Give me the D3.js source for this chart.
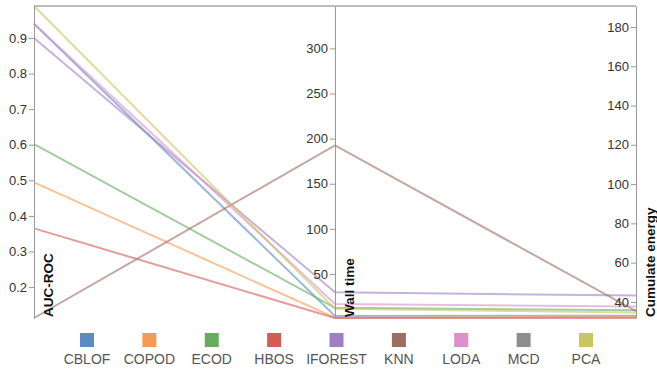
<!DOCTYPE html>
<html>
<head>
<meta charset="utf-8">
<script src="https://cdn.jsdelivr.net/npm/d3@7"></script>
<style>
    body { margin: 0; background: #fff; }
    text { font-family: "Liberation Sans", Arial, Helvetica, sans-serif; }
</style>
</head>
<body>
<div id="chart"></div>
<script>
// Methods and their measures
const methods = ['CBLOF', 'COPOD', 'ECOD', 'HBOS', 'IFOREST', 'KNN', 'LODA', 'MCD', 'PCA'];
const aucRoc = [0.94, 0.494, 0.602, 0.365, 0.90, 0.113, 0.94, 0.99, 0.99];
const wallTime = [3.5, 1.5, 12.5, 1.2, 29.7, 192.5, 16.8, 347, 11.5];
const energy = [33.0, 32.4, 35.8, 31.8, 43.2, 35.3, 37.6, 190.7, 34.6];
const dimensions = ['AUC-ROC', 'Wall time', 'Cumulate energy'];
const colors = ['#5b8bc0', '#f39b56', '#67ab5d', '#d35c57', '#a07ec4', '#9b6e62', '#dd8fc7', '#8e8e8e', '#c6c761'];

const WIDTH = 657, HEIGHT = 372;
const PLOT = { left: 34, right: 636, top: 6, bottom: 318 };

const rows = methods.map((m, i) => ({
    name: m,
    'AUC-ROC': aucRoc[i],
    'Wall time': wallTime[i],
    'Cumulate energy': energy[i]
}));

const svg = d3.select('#chart').append('svg')
    .attr('width', WIDTH)
    .attr('height', HEIGHT);

// x position of each axis
const x = d3.scalePoint()
    .domain(dimensions)
    .range([PLOT.left, PLOT.right]);

// one y scale per dimension, domain = data extent
const y = {};
dimensions.forEach(d => {
    y[d] = d3.scaleLinear()
        .domain(d3.extent(rows, r => r[d]))
        .range([PLOT.bottom, PLOT.top]);
});

const color = d3.scaleOrdinal().domain(methods).range(colors);

const line = d3.line()
    .x(d => x(d.dim))
    .y(d => y[d.dim](d.value));

// Lines
svg.append('g')
    .selectAll('path')
    .data(rows)
    .join('path')
    .attr('d', r => line(dimensions.map(dim => ({ dim, value: r[dim] }))))
    .attr('fill', 'none')
    .attr('stroke', r => color(r.name))
    .attr('stroke-width', 2)
    .attr('stroke-opacity', 0.6);

// Axes
dimensions.forEach(d => {
    const g = svg.append('g')
        .attr('transform', `translate(${x(d)},0)`)
        .call(d3.axisLeft(y[d]).tickSize(5).tickSizeOuter(0).tickPadding(2));
    g.select('.domain').attr('stroke', '#999');
    g.selectAll('.tick line').attr('stroke', '#999');
    g.selectAll('.tick text')
        .attr('fill', '#333')
        .style('font-size', '13px');

    // rotated axis title
    svg.append('text')
        .attr('transform', `translate(${x(d) + 19},${PLOT.bottom - 1}) rotate(-90)`)
        .attr('text-anchor', 'start')
        .style('font-size', '13.5px')
        .style('font-weight', 'bold')
        .attr('fill', '#111')
        .text(d);
});

// Legend
const legendX = d3.scalePoint()
    .domain(methods)
    .range([87, 586]);

const legend = svg.append('g')
    .selectAll('g')
    .data(methods)
    .join('g')
    .attr('transform', m => `translate(${legendX(m)},0)`);

legend.append('rect')
    .attr('x', -7)
    .attr('y', 333)
    .attr('width', 14)
    .attr('height', 14)
    .attr('fill', m => color(m));

legend.append('text')
    .attr('y', 364)
    .attr('text-anchor', 'middle')
    .attr('fill', '#555')
    .style('font-size', '14px')
    .text(m => m);
</script>
</body>
</html>
